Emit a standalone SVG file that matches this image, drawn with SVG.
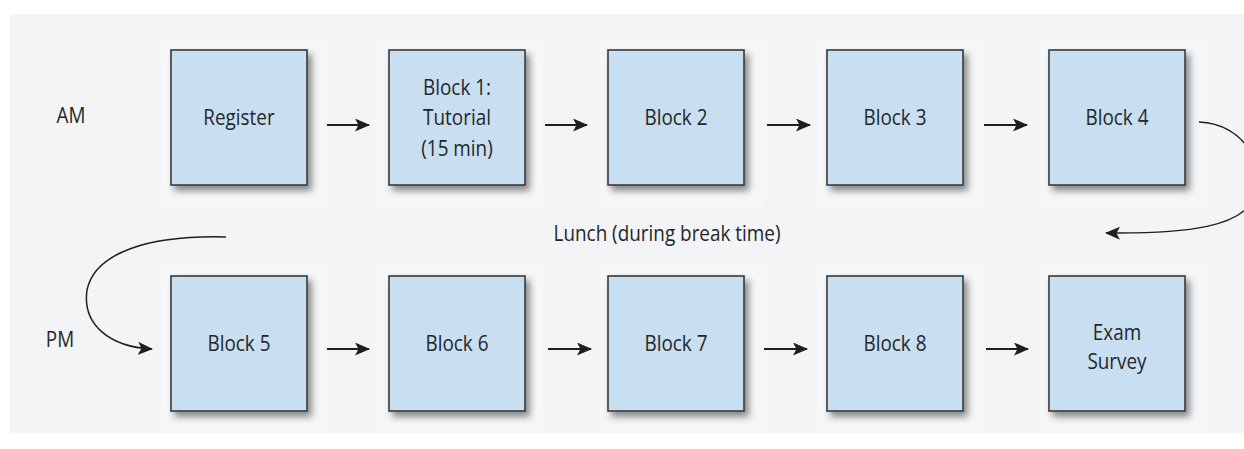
<svg xmlns="http://www.w3.org/2000/svg" width="1244" height="449" viewBox="0 0 1244 449">
<style>
.panel{fill:#f2f4f6}
.halo{fill:#f5f6f8}
.box{fill:#c8dff2;stroke:#3a3a3c;stroke-width:1.6;filter:url(#sh)}
.t{font-family:"Open Sans","Noto Sans","Liberation Sans",sans-serif;font-size:21px;fill:#262628;text-anchor:middle}
.arr{fill:none;stroke:#1e1e20;stroke-width:2;marker-end:url(#ah)}
.crv{fill:none;stroke:#1e1e20;stroke-width:1.5;marker-end:url(#ah)}
</style>
<defs>
<filter id="sh" x="-10%" y="-10%" width="130%" height="130%">
<feDropShadow dx="4" dy="5" stdDeviation="3.5" flood-color="#000" flood-opacity="0.45"/>
</filter>
<marker id="ah" markerUnits="userSpaceOnUse" markerWidth="16" markerHeight="14" refX="14" refY="6.5" orient="auto" viewBox="0 0 16 14">
<path d="M0,0 L15,6.5 L0,13 L3.5,6.5 z" fill="#1e1e20"/>
</marker>
</defs>
<rect x="0" y="0" width="1244" height="449" fill="#ffffff"/>
<rect class="panel" x="10" y="14" width="1234" height="419"/>

<text class="t" transform="translate(71 123) scale(0.9 1)">AM</text>
<text class="t" transform="translate(60 347) scale(0.9 1)">PM</text>
<text class="t" transform="translate(667 241) scale(0.9 1)">Lunch (during break time)</text>

<g id="register"><rect class="halo" x="160" y="38" width="168" height="169"/><rect class="box" x="171" y="50" width="136" height="135"/><text class="t" transform="translate(239 125) scale(0.9 1)">Register</text></g>
<g id="block1"><rect class="halo" x="378" y="38" width="168" height="169"/><rect class="box" x="389" y="50" width="136" height="135"/><text class="t" transform="translate(457 95) scale(0.9 1)"><tspan x="0" y="0">Block 1:</tspan><tspan x="0" y="30.5">Tutorial</tspan><tspan x="0" y="61">(15 min)</tspan></text></g>
<g id="block2"><rect class="halo" x="597" y="38" width="168" height="169"/><rect class="box" x="608" y="50" width="136" height="135"/><text class="t" transform="translate(676 125) scale(0.9 1)">Block 2</text></g>
<g id="block3"><rect class="halo" x="816" y="38" width="168" height="169"/><rect class="box" x="827" y="50" width="136" height="135"/><text class="t" transform="translate(895 125) scale(0.9 1)">Block 3</text></g>
<g id="block4"><rect class="halo" x="1038" y="38" width="168" height="169"/><rect class="box" x="1049" y="50" width="136" height="135"/><text class="t" transform="translate(1117 125) scale(0.9 1)">Block 4</text></g>

<g id="block5"><rect class="halo" x="160" y="264" width="168" height="169"/><rect class="box" x="171" y="276" width="136" height="135"/><text class="t" transform="translate(239 351) scale(0.9 1)">Block 5</text></g>
<g id="block6"><rect class="halo" x="378" y="264" width="168" height="169"/><rect class="box" x="389" y="276" width="136" height="135"/><text class="t" transform="translate(457 351) scale(0.9 1)">Block 6</text></g>
<g id="block7"><rect class="halo" x="597" y="264" width="168" height="169"/><rect class="box" x="608" y="276" width="136" height="135"/><text class="t" transform="translate(676 351) scale(0.9 1)">Block 7</text></g>
<g id="block8"><rect class="halo" x="816" y="264" width="168" height="169"/><rect class="box" x="827" y="276" width="136" height="135"/><text class="t" transform="translate(895 351) scale(0.9 1)">Block 8</text></g>
<g id="exam"><rect class="halo" x="1038" y="264" width="168" height="169"/><rect class="box" x="1049" y="276" width="136" height="135"/><text class="t" transform="translate(1117 340) scale(0.9 1)"><tspan x="0" y="0">Exam</tspan><tspan x="0" y="29">Survey</tspan></text></g>

<g id="connectors">
<path class="arr" d="M327,125 H369"/>
<path class="arr" d="M545,125 H587"/>
<path class="arr" d="M767,125 H810"/>
<path class="arr" d="M984,125 H1027"/>
<path class="arr" d="M327,349 H369"/>
<path class="arr" d="M548,349 H591"/>
<path class="arr" d="M764,349 H807"/>
<path class="arr" d="M986,349 H1028"/>
<path class="crv" d="M1199,122 C1245,124 1266,165 1254,198 C1242,226 1190,234 1106,233"/>
<path class="crv" d="M226,237 C150,235 95,252 87,290 C82,325 110,347 152,349"/>
</g>
</svg>
